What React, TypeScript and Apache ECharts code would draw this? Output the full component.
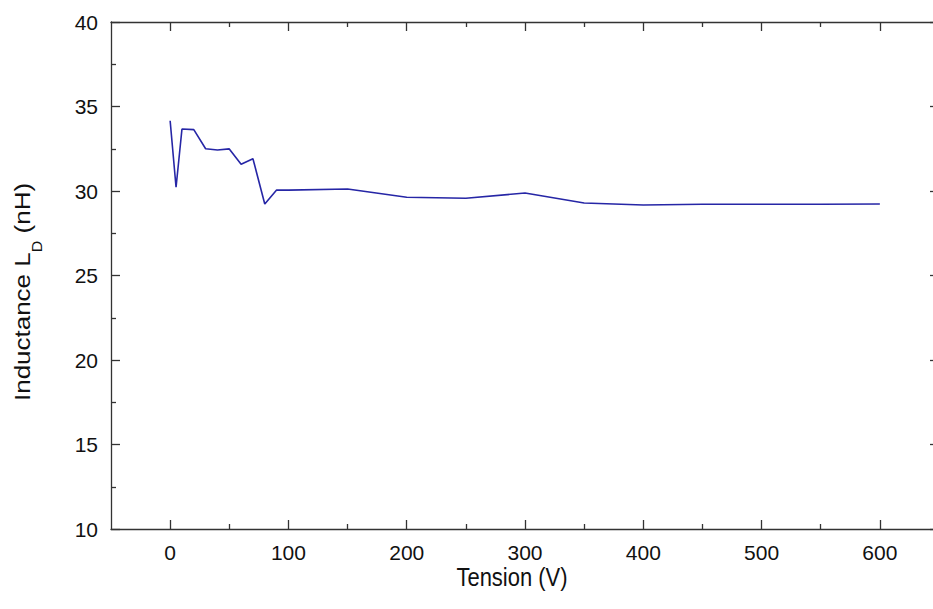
import React, { useEffect, useRef } from "react";
import * as echarts from "echarts";

const tension = [0, 5, 10, 20, 30, 40, 50, 60, 70, 80, 90, 100, 150, 200, 250, 300, 350, 400, 450, 500, 550, 600];
const inductance = [34.16, 30.22, 33.67, 33.63, 32.5, 32.43, 32.49, 31.58, 31.91, 29.23, 30.06, 30.05, 30.12, 29.63, 29.57, 29.88, 29.29, 29.17, 29.22, 29.22, 29.22, 29.23];

const xMajorTicks = [0, 100, 200, 300, 400, 500, 600];
const xMinorTicks = [50, 150, 250, 350, 450, 550];
const xName = "Tension (V)";
const yNameMain = "Inductance L";
const yNameSub = "D";
const yNameTail = " (nH)";

const AXIS_COLOR = "#333333";
const LINE_COLOR = "#2626a6";
const REGULAR = "'Liberation Sans', Arial, sans-serif";

export default function App() {
  const ref = useRef<HTMLDivElement>(null);

  useEffect(() => {
    if (!ref.current) return;
    const chart = echarts.init(ref.current, null, { renderer: "svg" });
    const axisLine = { show: true, onZero: false, lineStyle: { color: AXIS_COLOR, width: 1.3 } };
    const noLine = { show: false, onZero: false };
    const tickStyle = { color: AXIS_COLOR, width: 1.3 };
    const MAJOR = 9;
    const MINOR = 5;
    const xBase = { type: "value" as const, min: -50, max: 650, gridIndex: 0, splitLine: { show: false } };
    const data = tension.map((t, i) => [t, inductance[i]]);

    chart.setOption({
      animation: false,
      backgroundColor: "#ffffff",
      grid: { left: 111, right: 11, top: 22, bottom: 80, containLabel: false },
      xAxis: [
        {
          ...xBase,
          position: "bottom",
          axisLine,
          axisTick: { show: true, inside: true, length: MAJOR, customValues: xMajorTicks, lineStyle: tickStyle },
          axisLabel: {
            show: true,
            customValues: xMajorTicks,
            fontFamily: REGULAR,
            fontSize: 21,
            color: "#111111",
            margin: 13,
          },
        },
        {
          ...xBase,
          position: "bottom",
          axisLine: noLine,
          axisTick: { show: true, inside: true, length: MINOR, customValues: xMinorTicks, lineStyle: tickStyle },
          axisLabel: { show: false },
        },
        {
          ...xBase,
          position: "top",
          axisLine,
          axisTick: { show: true, inside: true, length: MAJOR, customValues: xMajorTicks, lineStyle: tickStyle },
          axisLabel: { show: false },
        },
        {
          ...xBase,
          position: "top",
          axisLine: noLine,
          axisTick: { show: true, inside: true, length: MINOR, customValues: xMinorTicks, lineStyle: tickStyle },
          axisLabel: { show: false },
        },
      ],
      yAxis: [
        {
          type: "value",
          min: 10,
          max: 40,
          interval: 5,
          position: "left",
          axisLine,
          axisTick: { show: true, inside: true, length: MAJOR, lineStyle: tickStyle },
          minorTick: { show: true, splitNumber: 2, length: MINOR, lineStyle: tickStyle },
          axisLabel: { fontFamily: REGULAR, fontSize: 21, color: "#111111", margin: 13 },
          splitLine: { show: false },
          minorSplitLine: { show: false },
        },
        {
          type: "value",
          min: 10,
          max: 40,
          interval: 5,
          position: "right",
          axisLine,
          axisTick: { show: true, inside: true, length: MAJOR, lineStyle: tickStyle },
          minorTick: { show: true, splitNumber: 2, length: MINOR, lineStyle: tickStyle },
          axisLabel: { show: false },
          splitLine: { show: false },
          minorSplitLine: { show: false },
        },
      ],
      graphic: [
        {
          type: "text",
          x: 512,
          y: 578,
          scaleX: 0.88,
          style: {
            text: xName,
            fontFamily: REGULAR,
            fontSize: 25,
            fill: "#111111",
            align: "center",
            verticalAlign: "middle",
          },
        },
        {
          type: "text",
          x: 27,
          y: 292,
          rotation: Math.PI / 2,
          scaleY: 0.88,
          style: {
            text: `{n|${yNameMain}}{s|${yNameSub}}{n|${yNameTail}}`,
            align: "center",
            verticalAlign: "middle",
            fill: "#111111",
            rich: {
              n: { fontFamily: REGULAR, fontSize: 26, lineHeight: 26, verticalAlign: "top", fill: "#111111" },
              s: { fontFamily: REGULAR, fontSize: 16, lineHeight: 38, verticalAlign: "bottom", fill: "#111111" },
            },
          },
        },
      ],
      series: [
        {
          type: "line",
          xAxisIndex: 0,
          yAxisIndex: 0,
          data,
          showSymbol: false,
          symbol: "none",
          lineStyle: { color: LINE_COLOR, width: 1.6 },
          clip: false,
        },
      ],
    });
    return () => chart.dispose();
  }, []);

  return (
    <div
      ref={ref}
      style={{ position: "fixed", left: 0, top: 0, width: 950, height: 609, background: "#fff" }}
    />
  );
}
